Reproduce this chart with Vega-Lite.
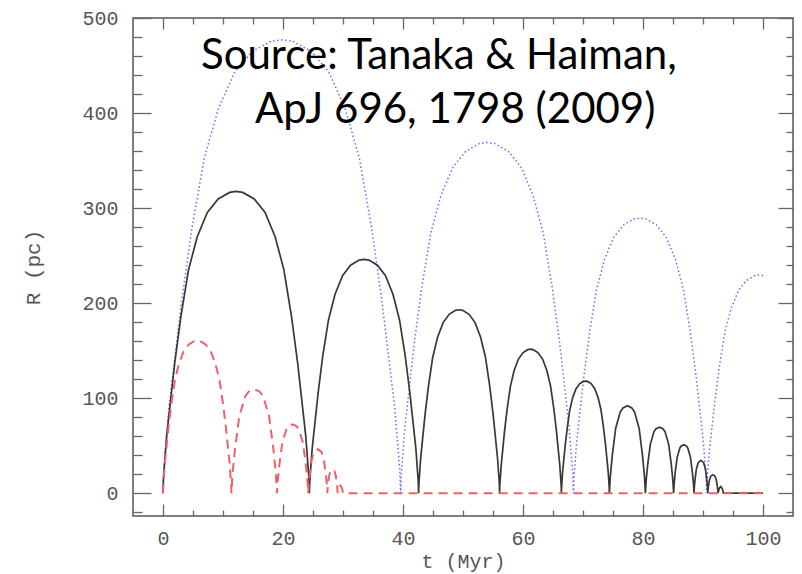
{
  "$schema": "https://vega.github.io/schema/vega-lite/v6.json",
  "width": 660,
  "height": 498,
  "autosize": {"type": "none"},
  "padding": {"left": 133, "top": 18, "right": 9, "bottom": 58},
  "background": "white",
  "datasets": {
    "blue": [
      {"t":0,"R":0},{"t":0.13,"R":23.9},{"t":0.99,"R":90.6},{"t":3.17,"R":205.1},{"t":4.83,"R":279.0},{"t":6.89,"R":353.0},{"t":9.27,"R":405.5},{"t":12.0,"R":443.6},{"t":14.93,"R":465.1},{"t":18.02,"R":475.6},{"t":19.8,"R":477},{"t":21.58,"R":475.6},{"t":24.67,"R":465.1},{"t":27.6,"R":443.6},{"t":30.33,"R":405.5},{"t":32.71,"R":353.0},{"t":34.77,"R":279.0},{"t":36.43,"R":205.1},{"t":38.61,"R":90.6},{"t":39.47,"R":23.9},{"t":39.6,"R":0},
      {"t":39.7,"R":18.5},{"t":40.32,"R":70.1},{"t":41.9,"R":158.7},{"t":43.11,"R":215.9},{"t":44.61,"R":273.1},{"t":46.34,"R":313.7},{"t":48.33,"R":343.2},{"t":50.46,"R":359.8},{"t":52.7,"R":367.9},{"t":54.0,"R":369},{"t":55.3,"R":367.9},{"t":57.54,"R":359.8},{"t":59.67,"R":343.2},{"t":61.66,"R":313.7},{"t":63.39,"R":273.1},{"t":64.89,"R":215.9},{"t":66.1,"R":158.7},{"t":67.68,"R":70.1},{"t":68.3,"R":18.5},{"t":68.4,"R":0},
      {"t":68.47,"R":14.5},{"t":68.96,"R":55.0},{"t":70.18,"R":124.5},{"t":71.11,"R":169.4},{"t":72.26,"R":214.2},{"t":73.59,"R":246.1},{"t":75.13,"R":269.2},{"t":76.77,"R":282.3},{"t":78.5,"R":288.6},{"t":79.5,"R":289.5},{"t":80.5,"R":288.6},{"t":82.23,"R":282.3},{"t":83.87,"R":269.2},{"t":85.41,"R":246.1},{"t":86.74,"R":214.2},{"t":87.89,"R":169.4},{"t":88.82,"R":124.5},{"t":90.05,"R":55.0},{"t":90.53,"R":14.5},{"t":90.6,"R":0},
      {"t":90.66,"R":11.5},{"t":91.04,"R":43.6},{"t":92.01,"R":98.7},{"t":92.75,"R":134.3},{"t":93.66,"R":169.8},{"t":94.72,"R":195.1},{"t":95.93,"R":213.4},{"t":97.24,"R":223.8},{"t":98.61,"R":228.8},{"t":99.4,"R":229.5},{"t":100,"R":229}
    ],
    "black": [
      {"t":0,"R":0},{"t":0.08,"R":15.9},{"t":0.61,"R":60.3},{"t":1.95,"R":136.5},{"t":2.98,"R":185.7},{"t":4.25,"R":235.0},{"t":5.71,"R":269.9},{"t":7.39,"R":295.3},{"t":9.2,"R":309.6},{"t":11.1,"R":316.5},{"t":12.2,"R":317.5},{"t":13.3,"R":316.5},{"t":15.2,"R":309.6},{"t":17.01,"R":295.3},{"t":18.69,"R":269.9},{"t":20.15,"R":235.0},{"t":21.42,"R":185.7},{"t":22.45,"R":136.5},{"t":23.79,"R":60.3},{"t":24.32,"R":15.9},{"t":24.4,"R":0},
      {"t":24.46,"R":12.3},{"t":24.86,"R":46.7},{"t":25.86,"R":105.8},{"t":26.62,"R":143.9},{"t":27.57,"R":182.0},{"t":28.66,"R":209.1},{"t":29.92,"R":228.8},{"t":31.26,"R":239.9},{"t":32.68,"R":245.3},{"t":33.5,"R":246},{"t":34.32,"R":245.3},{"t":35.74,"R":239.9},{"t":37.09,"R":228.8},{"t":38.34,"R":209.1},{"t":39.43,"R":182.0},{"t":40.38,"R":143.9},{"t":41.14,"R":105.8},{"t":42.15,"R":46.7},{"t":42.54,"R":12.3},{"t":42.6,"R":0},
      {"t":42.65,"R":9.7},{"t":42.94,"R":36.7},{"t":43.68,"R":83.0},{"t":44.25,"R":112.9},{"t":44.95,"R":142.8},{"t":45.76,"R":164.1},{"t":46.69,"R":179.5},{"t":47.69,"R":188.2},{"t":48.74,"R":192.4},{"t":49.35,"R":193},{"t":49.96,"R":192.4},{"t":51.01,"R":188.2},{"t":52.01,"R":179.5},{"t":52.94,"R":164.1},{"t":53.75,"R":142.8},{"t":54.45,"R":112.9},{"t":55.02,"R":83.0},{"t":55.76,"R":36.7},{"t":56.06,"R":9.7},{"t":56.1,"R":0},
      {"t":56.13,"R":7.6},{"t":56.36,"R":28.8},{"t":56.92,"R":65.1},{"t":57.36,"R":88.6},{"t":57.89,"R":112.1},{"t":58.51,"R":128.8},{"t":59.22,"R":140.9},{"t":59.98,"R":147.7},{"t":60.79,"R":151.0},{"t":61.25,"R":151.5},{"t":61.71,"R":151.0},{"t":62.52,"R":147.7},{"t":63.28,"R":140.9},{"t":63.99,"R":128.8},{"t":64.61,"R":112.1},{"t":65.14,"R":88.6},{"t":65.58,"R":65.1},{"t":66.14,"R":28.8},{"t":66.37,"R":7.6},{"t":66.4,"R":0},
      {"t":66.43,"R":5.9},{"t":66.6,"R":22.4},{"t":67.04,"R":50.7},{"t":67.38,"R":69.0},{"t":67.79,"R":87.3},{"t":68.27,"R":100.3},{"t":68.82,"R":109.7},{"t":69.42,"R":115.1},{"t":70.04,"R":117.6},{"t":70.4,"R":118},{"t":70.76,"R":117.6},{"t":71.38,"R":115.1},{"t":71.98,"R":109.7},{"t":72.53,"R":100.3},{"t":73.01,"R":87.3},{"t":73.42,"R":69.0},{"t":73.76,"R":50.7},{"t":74.2,"R":22.4},{"t":74.37,"R":5.9},{"t":74.4,"R":0},
      {"t":74.55,"R":17.5},{"t":74.88,"R":39.6},{"t":75.44,"R":68.1},{"t":76.22,"R":85.6},{"t":76.66,"R":89.7},{"t":77.4,"R":92},{"t":78.14,"R":89.7},{"t":78.58,"R":85.6},{"t":79.36,"R":68.1},{"t":79.92,"R":39.6},{"t":80.25,"R":17.5},{"t":80.4,"R":0},
      {"t":80.52,"R":13.2},{"t":80.78,"R":29.9},{"t":81.22,"R":51.4},{"t":81.82,"R":64.6},{"t":82.17,"R":67.8},{"t":82.75,"R":69.5},{"t":83.33,"R":67.8},{"t":83.68,"R":64.6},{"t":84.28,"R":51.4},{"t":84.72,"R":29.9},{"t":84.98,"R":13.2},{"t":85.1,"R":0},
      {"t":85.19,"R":9.7},{"t":85.37,"R":21.9},{"t":85.69,"R":37.7},{"t":86.13,"R":47.4},{"t":86.38,"R":49.7},{"t":86.8,"R":51},{"t":87.22,"R":49.7},{"t":87.47,"R":47.4},{"t":87.91,"R":37.7},{"t":88.23,"R":21.9},{"t":88.42,"R":9.7},{"t":88.5,"R":0},
      {"t":88.56,"R":6.6},{"t":88.68,"R":14.8},{"t":88.9,"R":25.5},{"t":89.2,"R":32.1},{"t":89.65,"R":34.5},{"t":90.1,"R":32.1},{"t":90.4,"R":25.5},{"t":90.62,"R":14.8},{"t":90.74,"R":6.6},{"t":90.8,"R":0},
      {"t":90.84,"R":3.7},{"t":90.94,"R":8.4},{"t":91.1,"R":14.4},{"t":91.32,"R":18.1},{"t":91.65,"R":19.5},{"t":91.98,"R":18.1},{"t":92.2,"R":14.4},{"t":92.36,"R":8.4},{"t":92.46,"R":3.7},{"t":92.5,"R":0},
      {"t":92.6,"R":3},{"t":92.75,"R":5.5},{"t":92.95,"R":7},{"t":93.15,"R":5.5},{"t":93.3,"R":3},{"t":93.4,"R":0},{"t":100,"R":0}
    ],
    "red": [
      {"t":0,"R":0},{"t":0.04,"R":8.0},{"t":0.29,"R":30.5},{"t":0.91,"R":69.0},{"t":1.39,"R":93.9},{"t":1.98,"R":118.8},{"t":2.67,"R":136.4},{"t":3.45,"R":149.3},{"t":4.3,"R":156.5},{"t":5.19,"R":160.0},{"t":5.7,"R":160.5},{"t":6.21,"R":160.0},{"t":7.1,"R":156.5},{"t":7.95,"R":149.3},{"t":8.73,"R":136.4},{"t":9.42,"R":118.8},{"t":10.01,"R":93.9},{"t":10.49,"R":69.0},{"t":11.12,"R":30.5},{"t":11.36,"R":8.0},{"t":11.4,"R":0},
      {"t":11.59,"R":20.8},{"t":12.01,"R":47.1},{"t":12.72,"R":81.0},{"t":13.7,"R":101.8},{"t":14.27,"R":106.8},{"t":15.2,"R":109.5},{"t":16.13,"R":106.8},{"t":16.7,"R":101.8},{"t":17.68,"R":81.0},{"t":18.39,"R":47.1},{"t":18.81,"R":20.8},{"t":19.0,"R":0},
      {"t":19.13,"R":13.8},{"t":19.42,"R":31.2},{"t":19.9,"R":53.7},{"t":20.58,"R":67.4},{"t":20.96,"R":70.7},{"t":21.6,"R":72.5},{"t":22.24,"R":70.7},{"t":22.62,"R":67.4},{"t":23.3,"R":53.7},{"t":23.78,"R":31.2},{"t":24.07,"R":13.8},{"t":24.2,"R":0},
      {"t":24.28,"R":8.8},{"t":24.46,"R":20.0},{"t":24.76,"R":34.4},{"t":25.17,"R":43.2},{"t":25.8,"R":46.5},{"t":26.43,"R":43.2},{"t":26.84,"R":34.4},{"t":27.14,"R":20.0},{"t":27.32,"R":8.8},{"t":27.4,"R":0},
      {"t":27.44,"R":4.8},{"t":27.54,"R":10.8},{"t":27.7,"R":18.5},{"t":27.92,"R":23.3},{"t":28.25,"R":25},{"t":28.58,"R":23.3},{"t":28.8,"R":18.5},{"t":28.96,"R":10.8},{"t":29.06,"R":4.8},{"t":29.1,"R":0},
      {"t":29.2,"R":3.5},{"t":29.35,"R":6.5},{"t":29.55,"R":8},{"t":29.75,"R":6.5},{"t":29.9,"R":3.5},{"t":30,"R":0},{"t":100,"R":0}
    ],
    "notes": [
      {"t":6.33,"R":446,"label":"Source: Tanaka & Haiman,"},
      {"t":15.33,"R":389,"label":"ApJ 696, 1798 (2009)"}
    ]
  },
  "layer": [
    {
      "data": {"name": "blue"},
      "mark": {"type": "line", "color": "#6b6bf5", "strokeWidth": 1.5, "strokeDash": [1.5, 2.5]},
      "encoding": {
        "x": {"field": "t", "type": "quantitative", "scale": {"domain": [-5, 105], "nice": false, "zero": false},
              "axis": {"orient": "bottom", "values": [0, 20, 40, 60, 80, 100], "tickSize": -12, "labelPadding": 24, "title": "t (Myr)", "titleFontSize": 20, "titlePadding": 3}},
        "y": {"field": "R", "type": "quantitative", "scale": {"domain": [-24, 500], "nice": false, "zero": false},
              "axis": {"orient": "left", "values": [0, 100, 200, 300, 400, 500], "tickSize": -18, "labelPadding": 33, "title": "R (pc)", "titleFontSize": 21, "titlePadding": 38}}
      }
    },
    {
      "data": {"name": "black"},
      "mark": {"type": "line", "color": "#383838", "strokeWidth": 1.7},
      "encoding": {
        "x": {"field": "t", "type": "quantitative", "scale": {"domain": [-5, 105], "nice": false, "zero": false},
              "axis": {"orient": "bottom", "values": [5, 10, 15, 25, 30, 35, 45, 50, 55, 65, 70, 75, 85, 90, 95], "tickSize": -6, "labels": false, "title": null}},
        "y": {"field": "R", "type": "quantitative", "scale": {"domain": [-24, 500], "nice": false, "zero": false},
              "axis": {"orient": "left", "values": [-20, 20, 40, 60, 80, 120, 140, 160, 180, 220, 240, 260, 280, 320, 340, 360, 380, 420, 440, 460, 480], "tickSize": -9, "labels": false, "title": null}}
      }
    },
    {
      "data": {"name": "red"},
      "mark": {"type": "line", "color": "#f0606a", "strokeWidth": 2, "strokeDash": [9, 6]},
      "encoding": {
        "x": {"field": "t", "type": "quantitative", "scale": {"domain": [-5, 105], "nice": false, "zero": false},
              "axis": {"orient": "top", "values": [0, 20, 40, 60, 80, 100], "tickSize": -11, "labels": false, "title": null}},
        "y": {"field": "R", "type": "quantitative", "scale": {"domain": [-24, 500], "nice": false, "zero": false},
              "axis": {"orient": "right", "values": [0, 100, 200, 300, 400, 500], "tickSize": -15, "labels": false, "title": null}}
      }
    },
    {
      "data": {"name": "notes"},
      "mark": {"type": "text", "font": "Lato", "fontSize": 42, "color": "black", "align": "left", "baseline": "alphabetic"},
      "encoding": {
        "x": {"field": "t", "type": "quantitative", "scale": {"domain": [-5, 105], "nice": false, "zero": false},
              "axis": {"orient": "top", "values": [5, 10, 15, 25, 30, 35, 45, 50, 55, 65, 70, 75, 85, 90, 95], "tickSize": -6, "labels": false, "title": null}},
        "y": {"field": "R", "type": "quantitative", "scale": {"domain": [-24, 500], "nice": false, "zero": false},
              "axis": {"orient": "right", "values": [-20, 20, 40, 60, 80, 120, 140, 160, 180, 220, 240, 260, 280, 320, 340, 360, 380, 420, 440, 460, 480], "tickSize": -7, "labels": false, "title": null}},
        "text": {"field": "label", "type": "nominal"}
      }
    }
  ],
  "resolve": {"axis": {"x": "independent", "y": "independent"}},
  "config": {
    "view": {"stroke": "#555555", "strokeWidth": 1.5},
    "axis": {"grid": false, "domain": false, "tickColor": "#666666", "tickWidth": 1.3,
             "labelFont": "Liberation Mono", "labelColor": "#555555", "labelFontSize": 20,
             "titleFont": "Liberation Mono", "titleColor": "#555555", "titleFontWeight": "normal"}
  }
}
